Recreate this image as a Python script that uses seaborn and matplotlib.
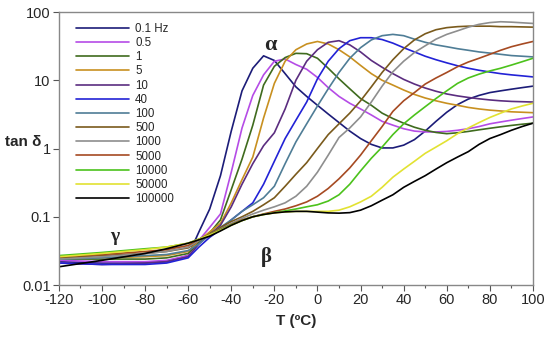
import numpy as np
import pandas as pd
import matplotlib
matplotlib.use('Agg')
import matplotlib.pyplot as plt
import seaborn as sns
from matplotlib.ticker import FixedLocator, MultipleLocator, FixedFormatter

# temperature grid (ºC)
temps = [-120, -100, -80, -70, -60, -55, -50, -45, -40, -35, -30, -25, -20, -15, -10, -5,
         0, 5, 10, 15, 20, 25, 30, 35, 40, 45, 50, 55, 60, 65, 70, 75, 80, 85, 90, 95, 100]

freq_labels = ['0.1 Hz', '0.5', '1', '5', '10', '40', '100', '500', '1000',
               '5000', '10000', '50000', '100000']

# tan delta, one list per frequency
tan_01 = [0.022, 0.021, 0.021, 0.022, 0.027, 0.06, 0.13, 0.4, 1.8, 7.0, 15.0, 22.8, 19.5, 12.5, 8.0, 5.8,
          4.3, 3.2, 2.4, 1.8, 1.4, 1.15, 1.02, 1.02, 1.12, 1.35, 1.8, 2.5, 3.4, 4.4, 5.3, 6.0, 6.6, 7.0, 7.4, 7.8, 8.2]
tan_05 = [0.023, 0.022, 0.022, 0.023, 0.027, 0.045, 0.07, 0.11, 0.45, 2.0, 6.0, 12.0, 19.0, 20.5, 17.0, 14.5,
          11.0, 7.8, 5.8, 4.6, 3.8, 3.1, 2.5, 2.2, 1.95, 1.8, 1.75, 1.75, 1.78, 1.85, 1.95, 2.1, 2.3, 2.45, 2.6, 2.75, 2.9]
tan_1 = [0.024, 0.024, 0.024, 0.025, 0.029, 0.042, 0.058, 0.09, 0.25, 0.7, 2.2, 8.5, 16.0, 21.5, 24.8, 24.5,
         21.0, 15.0, 10.5, 7.5, 5.4, 4.3, 3.3, 2.75, 2.35, 2.05, 1.85, 1.72, 1.65, 1.7, 1.78, 1.88, 1.98, 2.08, 2.18, 2.27, 2.35]
tan_5 = [0.025, 0.025, 0.026, 0.027, 0.031, 0.045, 0.06, 0.08, 0.16, 0.35, 0.75, 2.8, 9.0, 19.0, 28.0, 34.0,
         37.0, 34.0, 28.0, 22.0, 16.5, 12.5, 10.0, 8.5, 7.2, 6.2, 5.5, 5.0, 4.6, 4.3, 4.0, 3.8, 3.65, 3.55, 3.45, 3.4, 3.35]
tan_10 = [0.021, 0.020, 0.021, 0.022, 0.026, 0.04, 0.055, 0.075, 0.14, 0.3, 0.6, 1.1, 1.7, 3.8, 10.0, 19.0,
          28.0, 36.0, 38.0, 33.0, 26.0, 19.5, 15.5, 12.5, 10.3, 8.8, 7.7, 6.9, 6.3, 5.9, 5.6, 5.35, 5.15, 5.0, 4.9, 4.85, 4.8]
tan_40 = [0.021, 0.020, 0.020, 0.021, 0.025, 0.036, 0.05, 0.065, 0.09, 0.12, 0.16, 0.3, 0.65, 1.4, 2.6, 4.8,
          10.5, 19.0, 29.0, 38.0, 42.0, 42.0, 39.5, 35.0, 30.0, 26.0, 22.5, 20.0, 18.0, 16.3, 15.0, 14.0, 13.2, 12.5, 12.0, 11.6, 11.2]
tan_100 = [0.024, 0.025, 0.027, 0.028, 0.032, 0.04, 0.055, 0.07, 0.09, 0.12, 0.15, 0.19, 0.28, 0.6, 1.25, 2.3,
           4.2, 7.5, 13.0, 21.0, 30.0, 39.0, 45.0, 47.0, 45.0, 40.0, 36.0, 33.0, 31.0, 29.0, 27.5, 26.0, 25.0, 24.0, 23.0, 22.5, 22.0]
tan_500 = [0.025, 0.027, 0.029, 0.031, 0.035, 0.045, 0.056, 0.07, 0.085, 0.1, 0.12, 0.15, 0.19, 0.28, 0.42, 0.62,
           1.0, 1.6, 2.3, 3.3, 5.0, 8.0, 13.0, 20.0, 29.0, 39.0, 48.0, 55.0, 59.0, 61.0, 62.0, 62.0, 62.0, 61.0, 61.0, 60.5, 60.0]
tan_1000 = [0.024, 0.026, 0.029, 0.031, 0.036, 0.045, 0.055, 0.066, 0.08, 0.095, 0.11, 0.125, 0.14, 0.16, 0.2, 0.28,
            0.45, 0.8, 1.45, 2.0, 2.9, 4.8, 8.2, 13.3, 19.0, 25.5, 32.0, 40.0, 47.0, 53.0, 60.0, 66.0, 70.0, 72.0, 71.0, 69.5, 68.0]
tan_5000 = [0.026, 0.028, 0.031, 0.033, 0.038, 0.047, 0.055, 0.065, 0.077, 0.09, 0.1, 0.11, 0.12, 0.13, 0.145, 0.165,
            0.2, 0.26, 0.36, 0.52, 0.8, 1.3, 2.1, 3.5, 5.0, 6.6, 8.8, 10.8, 13.0, 15.8, 18.5, 21.0, 24.0, 27.5, 31.0, 34.0, 37.0]
tan_10000 = [0.027, 0.030, 0.034, 0.036, 0.041, 0.047, 0.054, 0.064, 0.076, 0.088, 0.1, 0.108, 0.115, 0.122, 0.13, 0.14,
             0.15, 0.17, 0.21, 0.3, 0.47, 0.72, 1.05, 1.6, 2.3, 3.1, 4.1, 5.4, 7.0, 9.0, 10.8, 12.3, 13.7, 15.0, 16.7, 18.7, 21.0]
tan_50000 = [0.026, 0.029, 0.033, 0.036, 0.041, 0.047, 0.054, 0.063, 0.075, 0.088, 0.1, 0.108, 0.114, 0.118, 0.12, 0.12,
             0.12, 0.12, 0.125, 0.14, 0.165, 0.2, 0.27, 0.38, 0.5, 0.65, 0.85, 1.05, 1.3, 1.65, 2.0, 2.4, 2.85, 3.3, 3.8, 4.2, 4.6]
tan_100000 = [0.0185, 0.023, 0.029, 0.034, 0.041, 0.046, 0.052, 0.062, 0.075, 0.088, 0.1, 0.108, 0.114, 0.118, 0.12, 0.12,
              0.117, 0.114, 0.113, 0.115, 0.125, 0.145, 0.175, 0.21, 0.27, 0.33, 0.4, 0.5, 0.62, 0.75, 0.9, 1.15, 1.4, 1.6, 1.85, 2.1, 2.35]

series = [tan_01, tan_05, tan_1, tan_5, tan_10, tan_40, tan_100, tan_500, tan_1000,
          tan_5000, tan_10000, tan_50000, tan_100000]

colors = ['#1c1c78', '#b54ce6', '#3f6b1e', '#c89020', '#5b2d80', '#2222d6', '#4f7d96',
          '#7a5a1c', '#8e8e8e', '#a64a22', '#4cc21c', '#e2e232', '#000000']

rows = []
for lab, vals in zip(freq_labels, series):
    for t, v in zip(temps, vals):
        rows.append({'T': t, 'tan': v, 'f': lab})
df = pd.DataFrame(rows)

sns.set_style('white')
plt.rcParams['font.family'] = ['Liberation Sans', 'DejaVu Sans']
plt.rcParams['axes.unicode_minus'] = False

fig = plt.figure(figsize=(5.5, 3.43), dpi=100)
ax = fig.add_axes([0.107, 0.169, 0.862, 0.796])

sns.lineplot(data=df, x='T', y='tan', hue='f', hue_order=freq_labels,
             palette=colors, linewidth=1.2, sort=False, ax=ax, legend=True)

ax.set_yscale('log')
ax.set_xlim(-120, 100)
ax.set_ylim(0.01, 100)

ax.xaxis.set_major_locator(MultipleLocator(20))
ax.xaxis.set_minor_locator(MultipleLocator(10))
ax.yaxis.set_major_locator(FixedLocator([0.01, 0.1, 1, 10, 100]))
ax.yaxis.set_major_formatter(FixedFormatter(['0.01', '0.1', '1', '10', '100']))
ax.yaxis.set_minor_locator(FixedLocator([]))
ax.tick_params(axis='both', which='major', direction='out', length=4, width=0.8,
               color='#555555', labelsize=10.5, pad=2, bottom=True, left=True)
ax.tick_params(axis='x', which='minor', direction='out', length=2.5, width=0.8,
               color='#555555', bottom=True)

for sp in ax.spines.values():
    sp.set_color('#888888')
    sp.set_linewidth(1.0)

ax.set_xlabel('T (ºC)', fontsize=11, fontweight='bold', labelpad=5)
ax.set_ylabel('tan δ', fontsize=11, fontweight='bold', rotation=0, labelpad=0)
ax.yaxis.set_label_coords(-0.075, 0.5)

handles, labels = ax.get_legend_handles_labels()
ax.legend(handles, labels, loc='upper left', frameon=False, fontsize=8.3,
          handlelength=4.6, handletextpad=0.5, labelspacing=0.19,
          borderaxespad=0.3, bbox_to_anchor=(0.02, 0.99))

greek = dict(fontweight='bold', family=['Liberation Serif', 'DejaVu Serif'], ha='center', va='center')
ax.text(-22, 33, 'α', fontsize=16, **greek)
ax.text(-23.5, 0.026, 'β', fontsize=15, **greek)
ax.text(-94, 0.052, 'γ', fontsize=14, **greek)

fig.savefig('out.png', dpi=100)
